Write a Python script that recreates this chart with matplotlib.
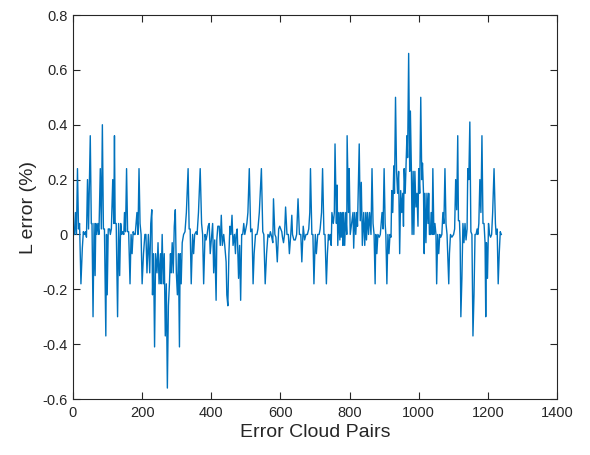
import matplotlib
matplotlib.use("Agg")
import matplotlib.pyplot as plt
import numpy as np

plt.rcParams["font.family"] = ["Liberation Sans", "DejaVu Sans"]
plt.rcParams["axes.unicode_minus"] = False

# pair index / L error (%), one entry per visible vertex
pair_idx = [
    1, 4, 7, 10, 13, 16, 19, 23, 27, 30, 33, 36, 39, 42, 45, 50, 53, 55, 58, 61,
    64, 66, 69, 72, 75, 79, 82, 85, 88, 91, 95, 97, 99, 102, 106, 108, 111, 115, 118, 120,
    122, 125, 129, 132, 135, 138, 141, 144, 147, 149, 152, 155, 158, 161, 165, 168, 171, 174, 177, 180,
    185, 188, 191, 194, 197,
    200, 204, 208, 211, 214, 218, 222, 225, 228, 230, 233, 236, 239, 243, 246, 249, 253, 255, 258, 261,
    264, 267, 270, 273, 276, 279, 282, 284, 287, 290, 293, 296, 299, 302, 305, 308, 310, 313, 316, 320,
    324, 328, 333, 336, 339, 342, 346, 349, 352, 356, 359, 363, 368, 372, 375, 378, 382, 385, 388, 391,
    394, 397,
    404, 407, 410, 414, 416, 419, 423, 426, 429, 432, 436, 439, 443, 445, 448, 451, 454, 457, 460, 463,
    467, 470, 472, 475, 479, 482, 485, 488, 491, 494, 497, 500, 503, 506, 510, 514, 518, 521, 524, 528,
    532, 535, 539, 545, 549, 552, 556, 560, 564, 568, 571, 575, 578, 580, 584, 587, 591, 595, 598,
    604, 606, 609, 612, 615, 619, 623, 626, 630, 633, 635, 639, 643, 647, 651, 655, 659, 662, 666, 670,
    674, 678, 682, 685, 687, 691, 694, 697, 701, 704, 708, 712, 715, 719, 722, 726, 729, 733, 736, 739,
    741, 744, 747, 749, 753, 756, 758, 762, 764, 766, 769, 772, 774, 776, 779, 781, 783, 786, 789, 792,
    793, 797, 799, 802,
    810, 812, 815, 818, 821, 823, 828, 831, 834, 837, 841, 844, 847, 849, 852, 855, 858, 862, 865, 868,
    871, 874, 876, 879, 882, 886, 889, 894, 897, 900, 903, 905, 908, 911, 914, 917, 920, 922, 925, 928,
    930, 933, 936, 939, 942, 945, 948, 951, 954, 956, 958, 961, 964, 966, 968, 971, 974, 976, 979, 981,
    984, 986, 989, 992, 995, 998, 1000, 1003, 1006, 1009, 1011, 1014, 1016,
    1018, 1021, 1024, 1027, 1029, 1031, 1034, 1036, 1039, 1041, 1044, 1047, 1050, 1052, 1055, 1058, 1061, 1064, 1067, 1070,
    1073, 1076, 1079, 1082, 1087, 1089, 1092, 1096, 1101, 1104, 1107, 1110, 1113, 1115, 1118, 1120, 1122, 1125, 1128, 1131,
    1134, 1137, 1140, 1142, 1145, 1148, 1151, 1154, 1157, 1160, 1163, 1166, 1169, 1171, 1174, 1177, 1180, 1183, 1186, 1189,
    1192, 1194, 1196, 1199, 1202, 1205, 1208, 1211, 1214, 1218, 1222, 1224, 1227, 1230, 1233, 1236, 1239,
]
l_error = [
    0.0, 0.0, 0.08, 0.0, 0.24, 0.02, 0.04, -0.18, -0.05, 0.01, 0.0, 0.01, -0.01, 0.2, 0.02, 0.36, 0.04, 0.04, -0.3, 0.04,
    -0.15, 0.04, 0.0, 0.04, 0.0, 0.24, 0.02, 0.4, 0.02, 0.02, -0.37, 0.0, -0.22, 0.02, 0.02, 0.0, 0.02, 0.2, 0.04, 0.36,
    0.04, 0.04, -0.3, 0.04, -0.15, 0.04, 0.0, 0.01, 0.0, 0.08, 0.01, 0.24, 0.01, 0.01, -0.18, 0.0, -0.07, 0.01, 0.0, 0.0,
    0.08, 0.0, 0.24, 0.04, 0.0,
    -0.18, -0.07, 0.0, 0.0, -0.14, 0.0, -0.14, 0.04, 0.09, -0.22, -0.07, -0.41, -0.07, -0.14, -0.03, -0.18, -0.07, -0.18, 0.0, -0.18,
    -0.07, -0.37, -0.18, -0.56, -0.26, -0.18, -0.07, -0.14, -0.03, -0.14, 0.03, 0.09, -0.14, -0.22, -0.07, -0.41, -0.07, -0.18, -0.03, 0.0,
    0.01, 0.08, 0.24, 0.02, 0.02, -0.18, 0.0, -0.07, 0.0, 0.01, 0.0, 0.08, 0.24, 0.04, 0.0, -0.18, 0.0, -0.02, 0.0, 0.03,
    0.04, -0.07,
    0.04, -0.14, -0.02, -0.24, -0.02, 0.03, 0.03, -0.04, 0.07, -0.04, 0.0, -0.04, -0.1, -0.22, -0.26, -0.07, 0.03, 0.0, 0.07, -0.04,
    0.0, -0.07, 0.0, 0.02, -0.16, -0.04, -0.24, 0.0, 0.0, 0.04, 0.0, 0.02, 0.04, 0.08, 0.24, 0.01, 0.02, -0.18, -0.07, 0.0,
    0.0, 0.02, 0.08, 0.24, 0.01, 0.0, -0.18, -0.07, 0.0, -0.01, 0.01, -0.01, -0.03, 0.13, 0.0, -0.01, -0.1, 0.02, 0.03,
    0.01, -0.01, -0.03, 0.0, 0.1, 0.0, 0.0, -0.07, 0.0, 0.07, 0.0, -0.02, -0.02, 0.0, 0.13, 0.0, 0.0, -0.1, 0.03, -0.02,
    0.0, 0.0, 0.02, 0.08, 0.24, 0.0, 0.0, -0.18, 0.0, -0.07, 0.0, 0.0, 0.02, 0.08, 0.24, 0.0, 0.0, -0.18, -0.07, 0.0,
    -0.02, 0.0, -0.04, 0.08, 0.04, 0.08, 0.33, 0.04, 0.18, -0.04, 0.08, -0.02, 0.08, -0.01, 0.08, -0.04, 0.08, -0.04, 0.08, 0.0,
    0.36, 0.08, 0.24, 0.0,
    0.08, -0.05, 0.08, 0.0, 0.08, 0.03, 0.33, 0.05, 0.19, -0.04, 0.08, -0.04, 0.08, -0.02, 0.08, 0.0, 0.08, 0.0, 0.24, 0.04,
    0.0, -0.18, 0.0, -0.07, 0.0, -0.01, 0.0, 0.08, 0.02, 0.24, 0.04, 0.0, -0.18, 0.0, -0.07, 0.0, -0.01, 0.16, 0.08, 0.25,
    0.15, 0.5, 0.23, 0.15, 0.23, -0.07, 0.16, 0.08, 0.15, 0.03, 0.24, 0.15, 0.28, 0.36, 0.28, 0.66, 0.23, 0.45, 0.23, 0.0,
    0.23, 0.0, 0.23, 0.1, 0.15, 0.03, 0.24, 0.15, 0.5, 0.2, 0.26, 0.15, -0.07,
    0.15, -0.03, 0.15, 0.04, 0.15, 0.0, 0.0, 0.08, 0.0, 0.24, 0.0, 0.04, 0.0, -0.18, 0.0, -0.07, 0.0, -0.01, 0.0, 0.08,
    0.04, 0.24, 0.04, 0.0, -0.18, -0.07, 0.0, -0.01, 0.0, 0.02, 0.2, 0.09, 0.36, 0.05, 0.05, -0.03, -0.3, -0.16, 0.04, -0.03,
    0.04, -0.02, 0.02, 0.24, 0.2, 0.41, 0.01, 0.0, -0.37, -0.22, 0.0, 0.0, 0.02, 0.0, 0.04, 0.2, 0.08, 0.36, 0.04, 0.04,
    -0.03, -0.3, -0.03, -0.16, 0.04, 0.0, -0.01, 0.0, 0.08, 0.24, 0.04, 0.0, 0.02, -0.18, -0.07, 0.01, 0.0,
]

x_ticks = [0, 200, 400, 600, 800, 1000, 1200, 1400]
y_ticks = [-0.6, -0.4, -0.2, 0, 0.2, 0.4, 0.6, 0.8]
y_tick_labels = ["-0.6", "-0.4", "-0.2", "0", "0.2", "0.4", "0.6", "0.8"]

fig = plt.figure(figsize=(5.9, 4.55), dpi=100)
ax = fig.add_axes([0.1237, 0.123, 0.8203, 0.844])

ax.plot(pair_idx, l_error, color="#0072BD", linewidth=1.0)

ax.set_xlim(0, 1400)
ax.set_ylim(-0.6, 0.8)
ax.set_xticks(x_ticks)
ax.set_yticks(y_ticks)
ax.set_yticklabels(y_tick_labels)

for s in ax.spines.values():
    s.set_color("#262626")
    s.set_linewidth(0.8)
ax.tick_params(direction="in", top=True, right=True, length=5, width=0.8,
               colors="#262626", labelsize=10.5, labelcolor="#262626")
ax.tick_params(axis="x", pad=5)

ax.set_xlabel("Error Cloud Pairs", fontsize=14, color="#262626", labelpad=3)
ax.set_ylabel("L error (%)", fontsize=14, color="#262626", labelpad=4)

fig.savefig("out.png", dpi=100)
